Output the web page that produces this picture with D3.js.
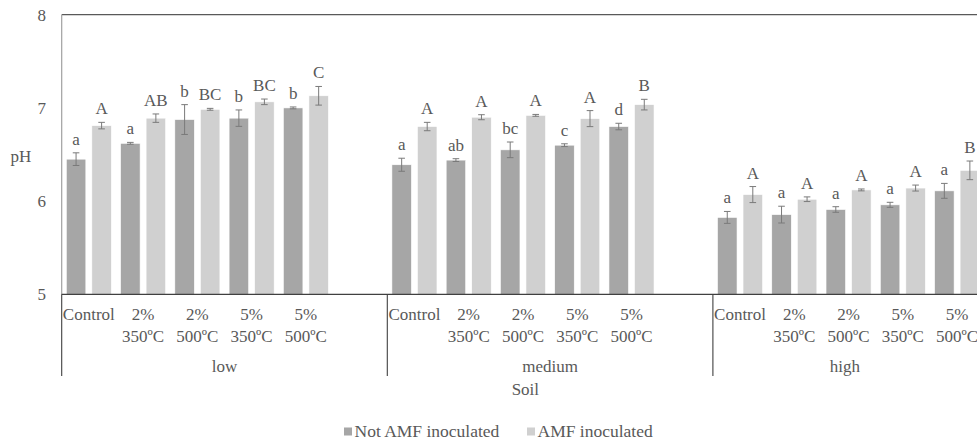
<!DOCTYPE html>
<html>
<head>
<meta charset="utf-8">
<script src="https://cdn.jsdelivr.net/npm/d3@7"></script>
<style>
  html, body { margin: 0; padding: 0; background: #fff; }
  svg { display: block; font-family: "Liberation Serif", "Times New Roman", serif; }
</style>
</head>
<body>
<svg id="chart" width="977" height="444"></svg>
<script>
// ---- data ----
const soils = ["low", "medium", "high"];
const treatments = ["Control", "2%\n350ºC", "2%\n500ºC", "5%\n350ºC", "5%\n500ºC"];
const seriesNames = ["Not AMF inoculated", "AMF inoculated"];
const yTicks = [5, 6, 7, 8];

// mean pH, by soil (low, medium, high) then treatment
const notInoculated = [
  [6.45, 6.62, 6.875, 6.89, 7.00],
  [6.39, 6.44, 6.55, 6.60, 6.80],
  [5.825, 5.855, 5.91, 5.96, 6.11]
];
const inoculated = [
  [6.81, 6.89, 6.985, 7.065, 7.13],
  [6.80, 6.90, 6.92, 6.885, 7.035],
  [6.07, 6.02, 6.12, 6.14, 6.33]
];
const errNotInoculated = [
  [0.068, 0.01, 0.16, 0.088, 0.01],
  [0.07, 0.015, 0.084, 0.015, 0.035],
  [0.064, 0.09, 0.03, 0.027, 0.08]
];
const errInoculated = [
  [0.035, 0.045, 0.01, 0.03, 0.10],
  [0.045, 0.027, 0.01, 0.086, 0.057],
  [0.086, 0.025, 0.01, 0.032, 0.10]
];
const lettersNotInoculated = [
  ["a", "a", "b", "b", "b"],
  ["a", "ab", "bc", "c", "d"],
  ["a", "a", "a", "a", "a"]
];
const lettersInoculated = [
  ["A", "AB", "BC", "BC", "C"],
  ["A", "A", "A", "A", "B"],
  ["A", "A", "A", "A", "B"]
];

// ---- layout ----
const W = 977, H = 444;
const plotLeft = 61.7, plotTop = 14.7, plotBottom = 294.3;
const groupWidth = 325.6;
const textColor = "#595959";
const colors = ["#a6a6a6", "#d0d0d0"];
const fontSize = 17;

const svg = d3.select("#chart");

const y = d3.scaleLinear().domain([5, 8]).range([plotBottom, plotTop]);
const x0 = d3.scaleBand().domain(soils)
  .range([plotLeft, plotLeft + groupWidth * soils.length]).padding(0);
// each soil group holds the five treatments plus one empty slot
const slots = treatments.concat(["__blank"]);
const x1 = d3.scaleBand().domain(slots).range([0, x0.bandwidth()]).padding(0);
const x2 = d3.scaleBand().domain(seriesNames).range([0, x1.bandwidth()])
  .paddingInner(0.235).paddingOuter(0.18);

// rows of data
const rows = [];
soils.forEach((s, gi) => {
  treatments.forEach((t, ti) => {
    rows.push({ soil: s, t, series: seriesNames[0], v: notInoculated[gi][ti], e: errNotInoculated[gi][ti], lab: lettersNotInoculated[gi][ti], si: 0 });
    rows.push({ soil: s, t, series: seriesNames[1], v: inoculated[gi][ti], e: errInoculated[gi][ti], lab: lettersInoculated[gi][ti], si: 1 });
  });
});
const bx = d => x0(d.soil) + x1(d.t) + x2(d.series);

// clip to visible area
svg.append("defs").append("clipPath").attr("id", "clip")
  .append("rect").attr("x", 0).attr("y", 0).attr("width", W).attr("height", H);

const g = svg.append("g").attr("clip-path", "url(#clip)");

// y axis tick labels
svg.append("g").selectAll("text").data(yTicks).join("text")
  .attr("x", 46).attr("y", d => y(d)).attr("dy", "0.35em")
  .attr("text-anchor", "end").attr("fill", textColor).attr("font-size", fontSize)
  .text(d => d3.format("d")(d));

// y axis title
svg.append("text").attr("x", 21).attr("y", (plotTop + plotBottom) / 2 + 2).attr("dy", "0.35em")
  .attr("text-anchor", "middle").attr("fill", textColor).attr("font-size", fontSize).text("pH");

// bars
g.append("g").selectAll("rect").data(rows).join("rect")
  .attr("x", bx).attr("width", x2.bandwidth())
  .attr("y", d => y(d.v)).attr("height", d => y(5) - y(d.v))
  .attr("fill", d => colors[d.si]).attr("stroke", "#ffffff").attr("stroke-width", 0.6);

// error bars
const eb = g.append("g").attr("stroke", "#7a7a7a").attr("stroke-width", 1).attr("fill", "none");
rows.forEach(d => {
  const cx = bx(d) + x2.bandwidth() / 2;
  const y1 = y(d.v + d.e), y2 = y(d.v - d.e);
  eb.append("line").attr("x1", cx).attr("x2", cx).attr("y1", y1).attr("y2", y2);
  eb.append("line").attr("x1", cx - 3.3).attr("x2", cx + 3.3).attr("y1", y1).attr("y2", y1);
  eb.append("line").attr("x1", cx - 3.3).attr("x2", cx + 3.3).attr("y1", y2).attr("y2", y2);
});

// significance letters
g.append("g").selectAll("text").data(rows).join("text")
  .attr("x", d => bx(d) + x2.bandwidth() / 2)
  .attr("y", d => y(d.v + d.e) - 8)
  .attr("text-anchor", "middle").attr("fill", textColor).attr("font-size", fontSize)
  .text(d => d.lab);

// axis lines
const axisG = svg.append("g");
axisG.append("line").attr("x1", plotLeft).attr("x2", W).attr("y1", plotTop).attr("y2", plotTop)
  .attr("stroke", "#595959").attr("stroke-width", 1.2);
axisG.append("line").attr("x1", plotLeft).attr("x2", plotLeft).attr("y1", plotTop).attr("y2", plotBottom)
  .attr("stroke", "#a0a0a0").attr("stroke-width", 1.2);
axisG.append("line").attr("x1", plotLeft).attr("x2", W).attr("y1", plotBottom).attr("y2", plotBottom)
  .attr("stroke", "#404040").attr("stroke-width", 1.2);
// group separators
soils.forEach(s => {
  axisG.append("line").attr("x1", x0(s)).attr("x2", x0(s)).attr("y1", plotBottom).attr("y2", 376)
    .attr("stroke", "#404040").attr("stroke-width", 1.1);
});

// category labels
const catG = g.append("g").attr("fill", textColor).attr("font-size", fontSize).attr("text-anchor", "middle");
soils.forEach(s => {
  treatments.forEach(t => {
    const cx = x0(s) + x1(t) + x1.bandwidth() / 2;
    t.split("\n").forEach((line, li) => {
      catG.append("text").attr("x", cx).attr("y", 320 + li * 21.5).text(line);
    });
  });
  // group label centered on its visible part
  const gl = x0(s), gr = Math.min(x0(s) + x0.bandwidth(), W);
  catG.append("text").attr("x", (gl + gr) / 2).attr("y", 371.5).text(s);
});

// axis title
svg.append("text").attr("x", (plotLeft + W) / 2 + 6).attr("y", 395)
  .attr("text-anchor", "middle").attr("fill", textColor).attr("font-size", fontSize).text("Soil");

// legend
const legendX = [344, 527];
const leg = svg.append("g");
seriesNames.forEach((n, i) => {
  leg.append("rect").attr("x", legendX[i]).attr("y", 427.5).attr("width", 8).attr("height", 8).attr("fill", colors[i]);
  leg.append("text").attr("x", legendX[i] + 10.5).attr("y", 436.5).attr("fill", textColor)
    .attr("font-size", 17.5).text(n);
});
</script>
</body>
</html>
